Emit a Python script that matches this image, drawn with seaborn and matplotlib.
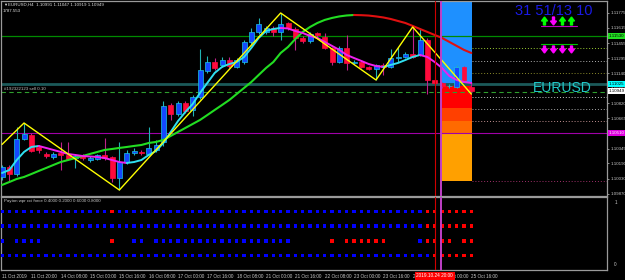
import matplotlib
matplotlib.use("Agg")
import matplotlib.pyplot as plt
import matplotlib.transforms as mtransforms
from matplotlib.lines import Line2D
from matplotlib.patches import Rectangle, FancyArrow
import numpy as np
import pandas as pd
import seaborn as sns

# EURUSD H4 candles
opens = [1.10048, 1.10153, 1.10079, 1.10447, 1.10489, 1.10363, 1.10290, 1.10258, 1.10300, 1.10279,
         1.10247, 1.10279, 1.10226, 1.10237, 1.10279, 1.10258, 1.10037, 1.10205, 1.10300, 1.10311,
         1.10290, 1.10332, 1.10416, 1.10804, 1.10710, 1.10826, 1.10752, 1.10889, 1.11162, 1.11256,
         1.11225, 1.11277, 1.11204, 1.11256, 1.11467, 1.11572, 1.11572, 1.11614, 1.11572, 1.11666,
         1.11603, 1.11509, 1.11477, 1.11561, 1.11519, 1.11404, 1.11256, 1.11404, 1.11246, 1.11256,
         1.11204, 1.11183, 1.11225, 1.11204, 1.11298, 1.11309, 1.11341, 1.11330, 1.11488, 1.11067,
         1.11036, 1.10999, 1.10994, 1.11204, 1.10991]
highs = [1.10174, 1.10174, 1.10573, 1.10615, 1.10510, 1.10384, 1.10311, 1.10311, 1.10416, 1.10416,
         1.10290, 1.10290, 1.10268, 1.10290, 1.10458, 1.10268, 1.10416, 1.10332, 1.10353, 1.10332,
         1.10573, 1.10437, 1.10847, 1.10826, 1.10847, 1.10847, 1.10910, 1.11393, 1.11319, 1.11298,
         1.11309, 1.11309, 1.11298, 1.11488, 1.11614, 1.11719, 1.11635, 1.11635, 1.11771, 1.11677,
         1.11624, 1.11530, 1.11572, 1.11572, 1.11561, 1.11414, 1.11425, 1.11540, 1.11277, 1.11267,
         1.11214, 1.11235, 1.11246, 1.11393, 1.11414, 1.11362, 1.11624, 1.11614, 1.11509, 1.11088,
         1.11046, 1.11025, 1.11225, 1.11214, 1.11047]
lows = [1.10016, 1.09995, 1.10058, 1.10437, 1.10311, 1.10300, 1.10247, 1.10237, 1.10121, 1.10226,
        1.10142, 1.10226, 1.10205, 1.10226, 1.10226, 1.09995, 1.09911, 1.10184, 1.10279, 1.10279,
        1.10279, 1.10311, 1.10374, 1.10647, 1.10689, 1.10720, 1.10689, 1.10868, 1.11141, 1.11172,
        1.11204, 1.11193, 1.11193, 1.11235, 1.11446, 1.11551, 1.11551, 1.11530, 1.11488, 1.11593,
        1.11383, 1.11456, 1.11456, 1.11509, 1.11393, 1.11225, 1.11246, 1.11172, 1.11235, 1.11193,
        1.11172, 1.11067, 1.11120, 1.11193, 1.11256, 1.11298, 1.11298, 1.11319, 1.10920, 1.11015,
        1.10983, 1.10983, 1.10983, 1.11046, 1.10919]
closes = [1.10153, 1.10079, 1.10447, 1.10500, 1.10321, 1.10332, 1.10268, 1.10290, 1.10279, 1.10237,
          1.10268, 1.10247, 1.10247, 1.10279, 1.10247, 1.10037, 1.10205, 1.10300, 1.10321, 1.10300,
          1.10353, 1.10384, 1.10794, 1.10710, 1.10826, 1.10741, 1.10889, 1.11172, 1.11256, 1.11193,
          1.11277, 1.11214, 1.11277, 1.11467, 1.11572, 1.11656, 1.11614, 1.11572, 1.11656, 1.11614,
          1.11509, 1.11477, 1.11551, 1.11540, 1.11404, 1.11256, 1.11404, 1.11246, 1.11256, 1.11204,
          1.11183, 1.11225, 1.11204, 1.11298, 1.11309, 1.11341, 1.11309, 1.11488, 1.11067, 1.11036,
          1.11004, 1.11009, 1.11204, 1.11067, 1.10949]

# moving averages (fast: cyan up / magenta down, slow: green up / red down)
ma_fast = [1.10090, 1.10121, 1.10226, 1.10311, 1.10363, 1.10374, 1.10353, 1.10332, 1.10311, 1.10290,
           1.10279, 1.10268, 1.10263, 1.10258, 1.10247, 1.10226, 1.10205, 1.10195, 1.10205, 1.10226,
           1.10279, 1.10321, 1.10405, 1.10521, 1.10636, 1.10731, 1.10815, 1.10931, 1.11036, 1.11141,
           1.11204, 1.11235, 1.11256, 1.11309, 1.11404, 1.11509, 1.11582, 1.11603, 1.11614, 1.11608,
           1.11582, 1.11561, 1.11530, 1.11509, 1.11467, 1.11425, 1.11383, 1.11330, 1.11298, 1.11267,
           1.11235, 1.11214, 1.11204, 1.11225, 1.11246, 1.11277, 1.11309, 1.11330, 1.11309, 1.11256,
           1.11193, 1.11109, 1.11067, 1.11046, 1.11036]
ma_slow = [1.09964, 1.09995, 1.10027, 1.10048, 1.10079, 1.10111, 1.10142, 1.10174, 1.10205, 1.10226,
           1.10247, 1.10268, 1.10290, 1.10311, 1.10332, 1.10342, 1.10353, 1.10363, 1.10374, 1.10384,
           1.10405, 1.10416, 1.10437, 1.10479, 1.10521, 1.10563, 1.10605, 1.10647, 1.10699, 1.10752,
           1.10804, 1.10857, 1.10920, 1.10983, 1.11046, 1.11120, 1.11193, 1.11256, 1.11351, 1.11414,
           1.11498, 1.11572, 1.11624, 1.11666, 1.11698, 1.11719, 1.11735, 1.11745, 1.11750, 1.11748,
           1.11744, 1.11735, 1.11724, 1.11708, 1.11687, 1.11666, 1.11635, 1.11603, 1.11572, 1.11540,
           1.11509, 1.11467, 1.11425, 1.11383, 1.11351]

zz_bars = [0, 3, 16, 38, 51, 56, 64]
zz_prices = [1.10390, 1.10615, 1.09911, 1.11771, 1.11067, 1.11624, 1.10919]

# horizontal levels
green_level = 1.11530
teal_level = 1.11025
order_level = 1.10945
magenta_level = 1.10510
dotted_levels = [1.11404, 1.11267, 1.11141, 1.10889, 1.10762, 1.10636, 1.10006]
dotted_colors = ["#9ACD32", "#B0B0B0", "#8A8A2A", "#C8C8C8", "#A8A8A8", "#C09090", "#A0306A"]

# colour zones at the right (top, bottom)
zone_edges = [1.1200, 1.11015, 1.10773, 1.10636, 1.10510, 1.10006]
zone_colors = ["#1E90FF", "#FF0000", "#FF4000", "#FF6A00", "#FFA000"]

price_ticks = [1.11775, 1.11615, 1.11455, 1.11295, 1.11140, 1.10980, 1.10820,
               1.10665, 1.10505, 1.10345, 1.10190, 1.10030, 1.09870]

time_labels = ["11 Oct 2019", "11 Oct 20:00", "14 Oct 08:00", "15 Oct 00:00", "15 Oct 16:00",
               "16 Oct 08:00", "17 Oct 00:00", "17 Oct 16:00", "18 Oct 08:00", "21 Oct 00:00",
               "21 Oct 16:00", "22 Oct 08:00", "23 Oct 00:00", "23 Oct 16:00", "24 Oct 08:00",
               "25 Oct 00:00", "25 Oct 16:00"]

# indicator window: b = blue dot, r = red dot, . = none
dot_levels = [0.8, 0.6, 0.4, 0.2]
dot_rows = [
    "b" * 15 + "r" + "b" * 42 + "r" * 7,
    "b" * 58 + "r" * 7,
    "b.bbbb.........r..bb.bbbbbbbbbbbbbbbbbbb.....r.rrrrrr....brrrr.rr",
    "b" * 59 + "r" * 6,
]

# signal arrows at the top right: up / down per slot
signal_top = ["up", "down", "up", "up"]
signal_bottom = ["down", "down", "down", "down"]

W, H = 625, 280
sns.set_theme(style="dark", rc={"axes.facecolor": "black", "figure.facecolor": "black"})
plt.rcParams["font.family"] = ["Liberation Sans", "DejaVu Sans"]

fig = plt.figure(figsize=(W / 100, H / 100), dpi=100, facecolor="black")


def fx(px):
    return px / W


def fy(py):
    return 1 - py / H


ax = fig.add_axes([fx(1), fy(196), fx(607) - fx(1), fy(1) - fy(196)])
ax2 = fig.add_axes([fx(1), fy(270), fx(607) - fx(1), fy(197) - fy(270)])
xmin, xmax = -0.14, 82.5

for a in (ax, ax2):
    a.set_facecolor("black")
    a.grid(False)
    a.set_xlim(xmin, xmax)
    for s in a.spines.values():
        s.set_visible(True)
        s.set_color("#9A9A9A")
        s.set_linewidth(0.9)

ax.set_ylim(1.09848, 1.11897)

# colour zones
zx0, zx1 = 59.9, 64.05
for i, col in enumerate(zone_colors):
    top, bot = zone_edges[i], zone_edges[i + 1]
    ax.add_patch(Rectangle((zx0, bot), zx1 - zx0, top - bot, facecolor=col,
                           edgecolor="none", zorder=1))

# horizontal lines
ax.axhline(green_level, color="#008A00", lw=0.9, zorder=2)
ax.axhline(teal_level, color="#1B5A5A", lw=2.0, zorder=2)
ax.axhline(order_level, color="#2E9E2E", lw=0.8, ls=(0, (4, 3)), zorder=2)
ax.axhline(magenta_level, color="#A000A8", lw=0.8, zorder=2)
ax.hlines(dotted_levels, 64.05, xmax, colors=dotted_colors, linestyles=(0, (1, 2)), lw=0.7, zorder=2)

# vertical lines
for a in (ax, ax2):
    a.axvline(59, color="#D00000", lw=0.8, zorder=6)
    a.axvline(59.9, color="#C040C8", lw=1.4, zorder=6)

# candles
bars = np.arange(len(opens))
o, h, l, c = map(np.array, (opens, highs, lows, closes))
up = c >= o
body_lo = np.minimum(o, c)
body_h = np.maximum(np.abs(c - o), 0.00004)
ax.vlines(bars[up], l[up], h[up], color="#20B4B4", lw=0.8, zorder=3)
ax.vlines(bars[~up], l[~up], h[~up], color="#C0208A", lw=0.8, zorder=3)
ax.bar(bars[up], body_h[up], bottom=body_lo[up], width=0.68, color="#1448FF",
       edgecolor="#19C3E6", linewidth=0.5, zorder=4)
ax.bar(bars[~up], body_h[~up], bottom=body_lo[~up], width=0.68, color="#FF0A3C",
       edgecolor="#FF0A3C", linewidth=0.5, zorder=4)


def runs_frame(values, up_col, dn_col):
    vals = np.array(values)
    dirs = np.where(np.diff(vals) >= 0, 1, -1)
    rows, run = [], 0
    for i, d in enumerate(dirs):
        if i > 0 and d != dirs[i - 1]:
            run += 1
        col = up_col if d > 0 else dn_col
        if i == 0 or d != dirs[i - 1]:
            rows.append((f"r{run}", i, vals[i], col))
        rows.append((f"r{run}", i + 1, vals[i + 1], col))
    df = pd.DataFrame(rows, columns=["run", "bar", "price", "color"])
    pal = dict(zip(df["run"], df["color"]))
    return df, pal


slow_df, slow_pal = runs_frame(ma_slow, "#22DD22", "#E01010")
sns.lineplot(data=slow_df, x="bar", y="price", hue="run", palette=slow_pal, estimator=None,
             sort=False, legend=False, lw=1.5, ax=ax, zorder=5)
fast_df, fast_pal = runs_frame(ma_fast, "#30E0F0", "#F020F0")
sns.lineplot(data=fast_df, x="bar", y="price", hue="run", palette=fast_pal, estimator=None,
             sort=False, legend=False, lw=1.4, ax=ax, zorder=5)
sns.lineplot(x=zz_bars, y=zz_prices, color="#FFFF00", lw=1.0, ax=ax, zorder=5)

ax.set_xlabel("")
ax.set_ylabel("")
ax.set_xticks([])
ax.yaxis.tick_right()
ax.set_yticks(price_ticks)
ax.set_yticklabels([f"{p:.5f}" for p in price_ticks])
ax.tick_params(axis="y", colors="#C8C8C8", labelsize=3.2, length=1.5, width=0.5, pad=0.8)

# coloured price tags on the axis
tr = mtransforms.blended_transform_factory(ax.transAxes, ax.transData)
for val, bg, fg in [(green_level, "#22E022", "black"), (teal_level, "#00FFFF", "black"),
                    (closes[-1], "#FFFFFF", "black"), (magenta_level, "#E000E0", "white")]:
    ax.text(1.003, val, f"{val:.5f}", transform=tr, ha="left", va="center", fontsize=3.2,
            color=fg, bbox=dict(facecolor=bg, edgecolor="none", pad=0.6), clip_on=False, zorder=10)

# indicator window dots
dots = []
for lev, row in zip(dot_levels, dot_rows):
    for i, ch in enumerate(row):
        if ch != ".":
            dots.append((i, lev, ch))
dots_df = pd.DataFrame(dots, columns=["bar", "level", "state"])
sns.scatterplot(data=dots_df, x="bar", y="level", hue="state",
                palette={"b": "#0000FF", "r": "#FF0000"}, marker="s", s=6, linewidth=0,
                legend=False, ax=ax2, zorder=4)
ax2.set_ylim(0, 1)
ax2.set_xlabel("")
ax2.set_ylabel("")
ax2.set_yticks([])
tick_pos = np.arange(0, len(opens), 4)
ax2.set_xticks(tick_pos)
ax2.set_xticklabels(time_labels, ha="left")
ax2.tick_params(axis="x", colors="#C8C8C8", labelsize=3.3, length=2, width=0.5, pad=1.2)
ax2.text(1.012, 0.96, "1", transform=ax2.transAxes, fontsize=3.3, color="#C8C8C8", va="top")
ax2.text(1.012, 0.04, "0", transform=ax2.transAxes, fontsize=3.3, color="#C8C8C8", va="bottom")
trx = mtransforms.blended_transform_factory(ax2.transData, ax2.transAxes)
ax2.text(59, -0.045, "2019.10.24 20:00", transform=trx, ha="center", va="top", fontsize=3.4,
         color="white", bbox=dict(facecolor="#FF0000", edgecolor="none", pad=1.2),
         clip_on=False, zorder=10)

# texts on the chart
fig.text(fx(3), fy(5), "▼", fontsize=3, color="#E0E0E0", va="center")
fig.text(fx(8), fy(5), "EURUSD,H4  1.10991 1.11047 1.10919 1.10949", fontsize=3.2,
         color="#E0E0E0", va="center")
fig.text(fx(3), fy(11), "1787.553", fontsize=3.2, color="#E0E0E0", va="center")
fig.text(fx(4), fy(89), "#192322123 sell 0.10", fontsize=3.2, color="#C0C0C0", va="center")
fig.text(fx(4), fy(201), "Payton wpr cci force 0.4000 0.2000 0.6000 0.8000", fontsize=3.2,
         color="#C8C8C8", va="center")
fig.text(fx(515), fy(11), "31 51/13 10", fontsize=10.5, color="#1A1AE6", va="center")
fig.text(fx(533), fy(88), "EURUSD", fontsize=10, color="#20C8C8", va="center")

# arrows drawn in pixel coordinates
pix = mtransforms.IdentityTransform()
slot_x = [544.5, 553.5, 562.5, 571.5]


def draw_arrow(px, top_py, bot_py, direction, col):
    if direction == "up":
        y0, dy = H - bot_py, bot_py - top_py
    else:
        y0, dy = H - top_py, -(bot_py - top_py)
    fig.add_artist(FancyArrow(px, y0, 0, dy, width=2.0, head_width=6, head_length=4,
                              length_includes_head=True, color=col, transform=pix))


for px, d in zip(slot_x, signal_top):
    draw_arrow(px, 17, 25, d, "#00FF00" if d == "up" else "#FF00FF")
for px, d in zip(slot_x, signal_bottom):
    draw_arrow(px, 46, 53, d, "#00FF00" if d == "up" else "#FF00FF")
fig.add_artist(Line2D([fx(541), fx(577)], [fy(25.5), fy(25.5)], color="#C000C0", lw=0.8))
fig.add_artist(Line2D([fx(541), fx(577)], [fy(44), fy(44)], color="#00C000", lw=0.8))

fig.savefig("out.png", dpi=100, facecolor="black")
